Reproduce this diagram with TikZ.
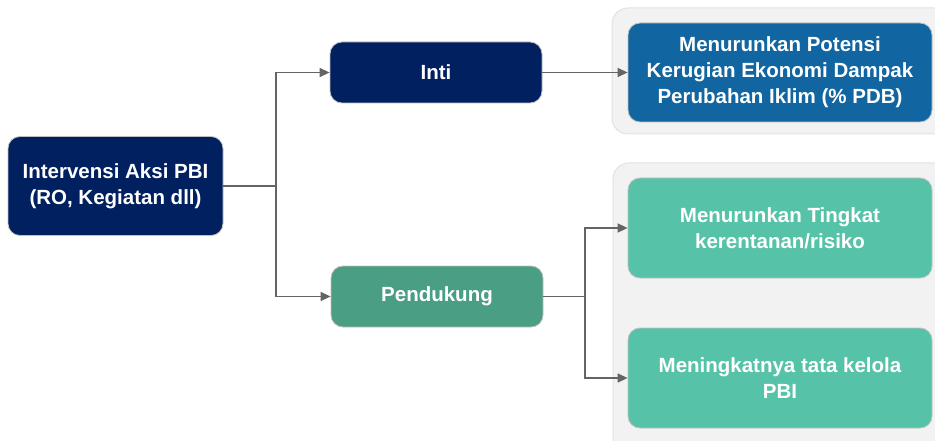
\documentclass[tikz,border=0pt]{standalone}
\usepackage{fontspec}
\setmainfont{Liberation Sans}
\usetikzlibrary{arrows.meta}
\definecolor{navy}{RGB}{0,32,96}
\definecolor{pgreen}{RGB}{74,158,132}
\definecolor{tblue}{RGB}{17,101,160}
\definecolor{teal}{RGB}{86,195,168}
\definecolor{panelfill}{RGB}{242,242,242}
\definecolor{paneledge}{RGB}{226,226,226}
\definecolor{conn}{RGB}{100,100,100}
\tikzset{
  box/.style={draw=black!25, line width=0.8pt, rounded corners=12pt, text=white,
    font=\fontsize{20.5}{26}\selectfont\bfseries, align=center, inner sep=0pt},
  panel/.style={draw=paneledge, fill=panelfill, line width=1pt, rounded corners=16pt},
  conn/.style={draw=conn, line width=1.4pt},
  arr/.style={conn, -{Triangle[length=10pt,width=9pt]}}
}
\begin{document}
\begin{tikzpicture}[x=1pt,y=-1pt]
\useasboundingbox (0,0) rectangle (935,441);
% panels
\path[panel] (612,8) rectangle (950,134);
\path[panel] (613,163) rectangle (950,460);
% nodes
\node[box, fill=navy, minimum width=215pt, minimum height=99pt] (src) at (115.5,186) {Intervensi Aksi PBI\\(RO, Kegiatan dll)};
\node[box, fill=navy, minimum width=212pt, minimum height=61pt] (inti) at (436,72.5) {Inti};
\node[box, fill=pgreen, minimum width=212pt, minimum height=61pt] (pend) at (437,296.5) {Pendukung};
\node[box, fill=tblue, minimum width=304pt, minimum height=99pt] (t1) at (780,72.5) {Menurunkan Potensi\\Kerugian Ekonomi Dampak\\Perubahan Iklim (\% PDB)};
\node[box, fill=teal, minimum width=304pt, minimum height=100pt] (t2) at (780,228) {Menurunkan Tingkat\\kerentanan/risiko};
\node[box, fill=teal, minimum width=304pt, minimum height=100pt] (t3) at (780,378) {Meningkatnya tata kelola\\PBI};
% connectors
\coordinate (j1) at (276,186);
\coordinate (j2) at (585,296.5);
\draw[conn] (src.east) -- (j1);
\draw[arr] (j1) |- (inti.west);
\draw[arr] (j1) |- (pend.west);
\draw[arr] (inti.east) -- (t1.west);
\draw[conn] (pend.east) -- (j2);
\draw[arr] (j2) |- (t2.west);
\draw[arr] (j2) |- (t3.west);
\end{tikzpicture}
\end{document}
